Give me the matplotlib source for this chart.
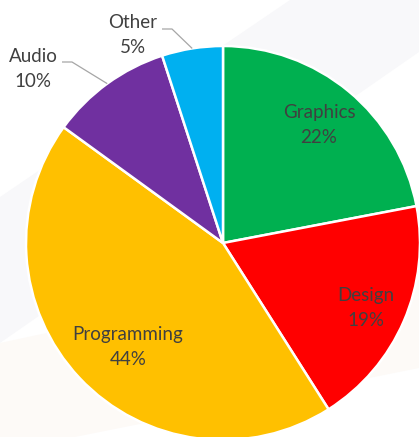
import numpy as np
import matplotlib
matplotlib.use("Agg")
import matplotlib.pyplot as plt
from matplotlib.patches import Polygon

categories = ["Graphics", "Design", "Programming", "Audio", "Other"]
shares = [22, 19, 44, 10, 5]
colors = ["#00b050", "#ff0000", "#ffc000", "#7030a0", "#00b0f0"]

W, H = 419, 437
CX, CY, R = 223, 243, 197

def px(x, y):
    return ((x - CX) / R, (CY - y) / R)

fig = plt.figure(figsize=(W / 100, H / 100), dpi=100)
fig.patch.set_facecolor("white")
ax = fig.add_axes([0, 0, 1, 1])
ax.set_xlim(-CX / R, (W - CX) / R)
ax.set_ylim(-(H - CY) / R, CY / R)
ax.axis("off")

# faint background bands
gray = [px(0, 197), px(290, 0), px(419, 0), px(419, 52), px(0, 343)]
peach = [px(0, 343), px(200, 300), px(419, 280), px(419, 368), px(0, 452)]
ax.add_patch(Polygon(gray, closed=True, facecolor="#f8f8fa", edgecolor="none", zorder=0))
ax.add_patch(Polygon(peach, closed=True, facecolor="#fdfaf7", edgecolor="none", zorder=0))

wedges, _ = ax.pie(shares, colors=colors, startangle=90, counterclock=False,
                   radius=1, center=(0, 0),
                   wedgeprops=dict(edgecolor="white", linewidth=1.8))
ax.set_aspect("auto")
ax.set_xlim(-CX / R, (W - CX) / R)
ax.set_ylim(-(H - CY) / R, CY / R)

font = dict(family=["Lato", "DejaVu Sans"], fontsize=13.5, color="#404040",
            ha="center", va="center", linespacing=1.6)

inside_pos = {"Graphics": (319, 125), "Design": (366, 308), "Programming": (128, 347)}
outside_pos = {"Audio": (33, 69), "Other": (133, 35)}
elbows = {"Audio": [(62, 62), (72, 62)], "Other": [(162, 29), (172, 29)]}

for w, cat, val in zip(wedges, categories, shares):
    label = f"{cat}\n{val}%"
    if cat in inside_pos:
        x, y = px(*inside_pos[cat])
        ax.text(x, y, label, zorder=5, **font)
    else:
        x, y = px(*outside_pos[cat])
        ax.text(x, y, label, zorder=5, **font)
        mid = np.deg2rad((w.theta1 + w.theta2) / 2)
        ex, ey = np.cos(mid), np.sin(mid)
        pts = [px(*p) for p in elbows[cat]] + [(ex, ey)]
        ax.plot([p[0] for p in pts], [p[1] for p in pts], color="#a6a6a6",
                linewidth=0.9, zorder=4, solid_capstyle="butt")

fig.savefig("out.png", dpi=100, facecolor="white")
